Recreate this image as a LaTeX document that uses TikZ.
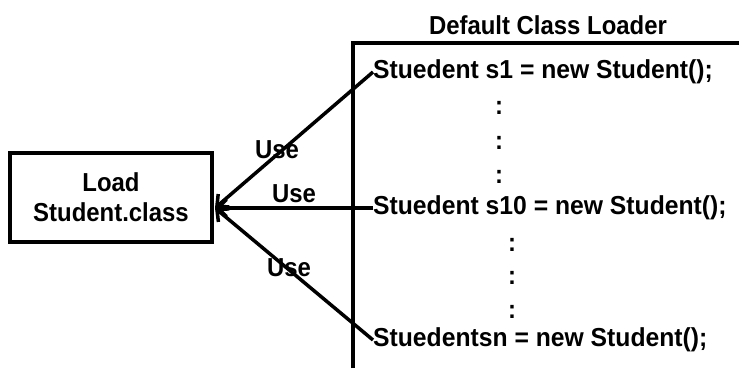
\documentclass[tikz,border=0pt]{standalone}
\usepackage{fontspec}
\setmainfont[FakeStretch=0.92]{Liberation Sans}
\newfontfamily\codefont[FakeStretch=0.95]{Liberation Sans}
\usetikzlibrary{arrows.meta}
\begin{document}
\begin{tikzpicture}[x=1pt,y=1pt,
  every node/.style={font=\fontsize{26}{29}\selectfont\bfseries},
  code/.style={anchor=west,inner sep=0pt,font=\codefont\fontsize{26}{29}\selectfont\bfseries},
  dots/.style={inner sep=0pt},
  lbl/.style={inner sep=0pt},
  box/.style={draw,line width=4pt,minimum width=202pt,minimum height=89pt,align=center,inner sep=0pt},
  conn/.style={line width=3.5pt,-{Straight Barb[length=9pt,width=17pt]}}]
\useasboundingbox (0,0) rectangle (739,368);
\node[box] (load) at (111,170.5) {Load\\[1pt]Student.class};
\coordinate (tip) at (215,160);
\draw[line width=4pt] (353,0) -- (353,325) -- (739,325);
\node (title) at (548,343) {Default Class Loader};
\node[code] (s1) at (373,296) {Stuedent s1 = new Student();};
\node[code] (s10) at (373,160) {Stuedent s10 = new Student();};
\node[code] (sn) at (373,28) {Stuedentsn = new Student();};
\node[dots] (d1) at (499,260) {:};
\node[dots] (d2) at (499,225) {:};
\node[dots] (d3) at (499,191) {:};
\node[dots] (d4) at (512,123) {:};
\node[dots] (d5) at (512,90) {:};
\node[dots] (d6) at (512,56) {:};
\node[lbl] (u1) at (277,218) {Use};
\node[lbl] (u2) at (294,174) {Use};
\node[lbl] (u3) at (289,100) {Use};
\draw[conn] (s1.west) -- (tip);
\draw[conn] (s10.west) -- (tip);
\draw[conn] (sn.west) -- (tip);
\end{tikzpicture}
\end{document}
